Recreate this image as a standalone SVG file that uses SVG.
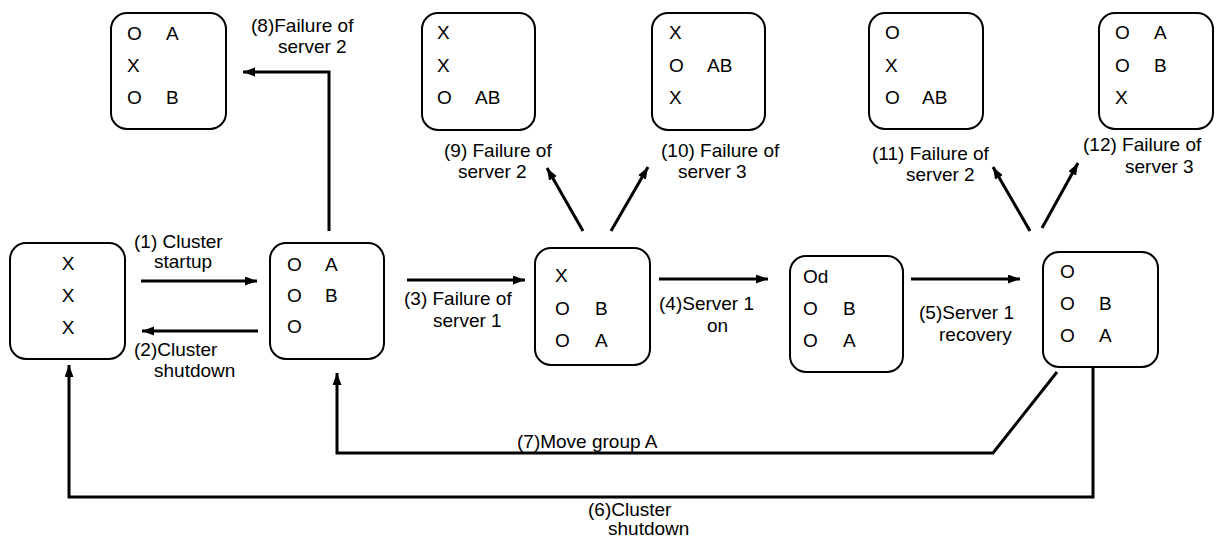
<svg xmlns="http://www.w3.org/2000/svg" width="1217" height="538" viewBox="0 0 1217 538">
<style>
.box{fill:#fff;stroke:#000;stroke-width:2}
.nt{font-family:"Liberation Sans",Arial,sans-serif;font-size:19px;fill:#000}
.lb{font-family:"Liberation Sans",Arial,sans-serif;font-size:19px;fill:#000}
.c{fill:none;stroke:#000;stroke-width:3}
</style>
<defs>
<marker id="ah" markerUnits="userSpaceOnUse" markerWidth="13" markerHeight="10" refX="12" refY="4.5" orient="auto">
<path d="M0,0 L12,4.5 L0,9 z" fill="#000"/>
</marker>
</defs>
<rect width="1217" height="538" fill="#fff"/>
<g id="connectors">
<line class="c" x1="141" y1="281" x2="257" y2="281" marker-end="url(#ah)"/>
<line class="c" x1="258" y1="331" x2="142" y2="331" marker-end="url(#ah)"/>
<line class="c" x1="407" y1="280" x2="525" y2="280" marker-end="url(#ah)"/>
<line class="c" x1="659" y1="279" x2="768" y2="279" marker-end="url(#ah)"/>
<line class="c" x1="911" y1="279" x2="1020" y2="279" marker-end="url(#ah)"/>
<polyline class="c" points="329,231 329,72 243,72" marker-end="url(#ah)"/>
<line class="c" x1="583" y1="231" x2="547" y2="168" marker-end="url(#ah)"/>
<line class="c" x1="611" y1="231" x2="648" y2="167" marker-end="url(#ah)"/>
<line class="c" x1="1030" y1="231" x2="993" y2="167" marker-end="url(#ah)"/>
<line class="c" x1="1042" y1="228" x2="1078" y2="163" marker-end="url(#ah)"/>
<polyline class="c" points="1057,372 993,453 337,453 337,373" marker-end="url(#ah)"/>
<polyline class="c" points="1093,363 1093,497 69,497 69,365" marker-end="url(#ah)"/>
<text class="lb" x="134" y="248">(1) Cluster</text>
<text class="lb" x="154" y="268">startup</text>
<text class="lb" x="134" y="356">(2)Cluster</text>
<text class="lb" x="154" y="377">shutdown</text>
<text class="lb" x="404" y="305">(3) Failure of</text>
<text class="lb" x="433" y="327">server 1</text>
<text class="lb" x="659" y="310">(4)Server 1</text>
<text class="lb" x="707" y="332">on</text>
<text class="lb" x="919" y="319">(5)Server 1</text>
<text class="lb" x="939" y="341">recovery</text>
<text class="lb" x="588" y="516">(6)Cluster</text>
<text class="lb" x="608" y="535">shutdown</text>
<text class="lb" x="517" y="448">(7)Move group A</text>
<text class="lb" x="251" y="32">(8)Failure of</text>
<text class="lb" x="278" y="53">server 2</text>
<text class="lb" x="444" y="157">(9) Failure of</text>
<text class="lb" x="458" y="178">server 2</text>
<text class="lb" x="661" y="157">(10) Failure of</text>
<text class="lb" x="678" y="178">server 3</text>
<text class="lb" x="872" y="160">(11) Failure of</text>
<text class="lb" x="906" y="181">server 2</text>
<text class="lb" x="1083" y="151">(12) Failure of</text>
<text class="lb" x="1125" y="173">server 3</text>
</g>
<g id="n0">
<rect class="box" x="10" y="243" width="115" height="116" rx="16"/>
<text class="nt" x="68" y="270" text-anchor="middle">X</text>
<text class="nt" x="68" y="302" text-anchor="middle">X</text>
<text class="nt" x="68" y="334" text-anchor="middle">X</text>
</g>
<g id="n1">
<rect class="box" x="270" y="243" width="114" height="116" rx="16"/>
<text class="nt" x="287" y="271">O</text><text class="nt" x="325" y="271">A</text>
<text class="nt" x="287" y="302">O</text><text class="nt" x="325" y="302">B</text>
<text class="nt" x="287" y="333">O</text>
</g>
<g id="n3">
<rect class="box" x="535" y="248" width="115" height="117" rx="16"/>
<text class="nt" x="555" y="282">X</text>
<text class="nt" x="555" y="315">O</text><text class="nt" x="595" y="315">B</text>
<text class="nt" x="555" y="347">O</text><text class="nt" x="595" y="347">A</text>
</g>
<g id="n4">
<rect class="box" x="790" y="256" width="113" height="116" rx="16"/>
<text class="nt" x="803" y="283">Od</text>
<text class="nt" x="803" y="315">O</text><text class="nt" x="843" y="315">B</text>
<text class="nt" x="803" y="347">O</text><text class="nt" x="843" y="347">A</text>
</g>
<g id="n5">
<rect class="box" x="1043" y="252" width="115" height="115" rx="16"/>
<text class="nt" x="1060" y="278">O</text>
<text class="nt" x="1060" y="310">O</text><text class="nt" x="1099" y="310">B</text>
<text class="nt" x="1060" y="342">O</text><text class="nt" x="1099" y="342">A</text>
</g>
<g id="n8">
<rect class="box" x="111" y="13" width="115" height="116" rx="16"/>
<text class="nt" x="127" y="40">O</text><text class="nt" x="166" y="40">A</text>
<text class="nt" x="127" y="72">X</text>
<text class="nt" x="127" y="104">O</text><text class="nt" x="166" y="104">B</text>
</g>
<g id="n9">
<rect class="box" x="422" y="13" width="113" height="117" rx="16"/>
<text class="nt" x="437" y="39">X</text>
<text class="nt" x="437" y="72">X</text>
<text class="nt" x="437" y="104">O</text><text class="nt" x="475" y="104">AB</text>
</g>
<g id="n10">
<rect class="box" x="652" y="13" width="113" height="117" rx="16"/>
<text class="nt" x="669" y="39">X</text>
<text class="nt" x="669" y="72">O</text><text class="nt" x="707" y="72">AB</text>
<text class="nt" x="669" y="104">X</text>
</g>
<g id="n11">
<rect class="box" x="869" y="13" width="114" height="116" rx="16"/>
<text class="nt" x="885" y="39">O</text>
<text class="nt" x="885" y="72">X</text>
<text class="nt" x="885" y="104">O</text><text class="nt" x="922" y="104">AB</text>
</g>
<g id="n12">
<rect class="box" x="1099" y="13" width="114" height="116" rx="16"/>
<text class="nt" x="1115" y="39">O</text><text class="nt" x="1154" y="39">A</text>
<text class="nt" x="1115" y="72">O</text><text class="nt" x="1154" y="72">B</text>
<text class="nt" x="1115" y="104">X</text>
</g>
</svg>
